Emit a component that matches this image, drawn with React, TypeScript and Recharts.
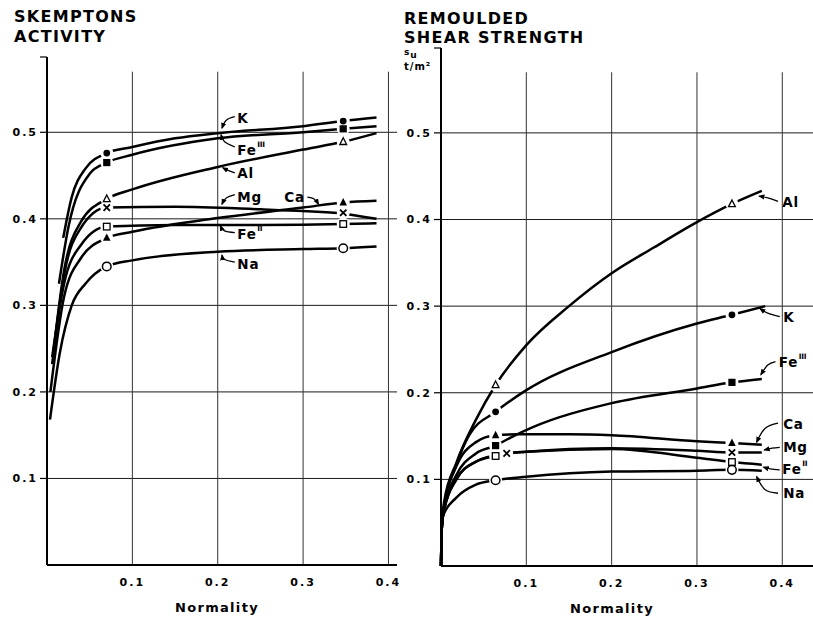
import React from 'react';
import { ComposedChart, Line, Scatter, XAxis, YAxis, ReferenceLine } from 'recharts';

type Pair = [number, number];

const xTicks = [0.1, 0.2, 0.3, 0.4];
const yTicks = [0.1, 0.2, 0.3, 0.4, 0.5];

// Skemptons activity vs normality — curves
const activityK: Pair[] = [[0.019, 0.378], [0.029, 0.425], [0.045, 0.458], [0.07, 0.476], [0.1, 0.483], [0.15, 0.493], [0.2, 0.499], [0.3, 0.507], [0.347, 0.513], [0.386, 0.517]];
const activityFe3: Pair[] = [[0.014, 0.325], [0.025, 0.39], [0.05, 0.452], [0.07, 0.465], [0.1, 0.474], [0.2, 0.493], [0.3, 0.5], [0.347, 0.504], [0.386, 0.507]];
const activityAl: Pair[] = [[0.008, 0.25], [0.02, 0.34], [0.04, 0.397], [0.07, 0.423], [0.1, 0.434], [0.2, 0.46], [0.3, 0.48], [0.347, 0.489], [0.386, 0.499]];
const activityMg: Pair[] = [[0.006, 0.232], [0.02, 0.335], [0.04, 0.39], [0.07, 0.413], [0.15, 0.414], [0.25, 0.411], [0.3, 0.409], [0.347, 0.406], [0.386, 0.4]];
const activityCa: Pair[] = [[0.004, 0.2], [0.02, 0.31], [0.04, 0.355], [0.07, 0.378], [0.1, 0.385], [0.2, 0.401], [0.3, 0.413], [0.347, 0.419], [0.386, 0.421]];
const activityFe2: Pair[] = [[0.006, 0.24], [0.02, 0.325], [0.04, 0.37], [0.07, 0.391], [0.15, 0.393], [0.25, 0.393], [0.347, 0.394], [0.386, 0.395]];
const activityNa: Pair[] = [[0.0035, 0.168], [0.015, 0.245], [0.029, 0.3], [0.045, 0.325], [0.07, 0.345], [0.1, 0.352], [0.2, 0.362], [0.3, 0.365], [0.347, 0.366], [0.386, 0.368]];

// measured points (markers)
const activityKPts: Pair[] = [[0.07, 0.476], [0.347, 0.513]];
const activityFe3Pts: Pair[] = [[0.07, 0.465], [0.347, 0.504]];
const activityAlPts: Pair[] = [[0.07, 0.423], [0.347, 0.489]];
const activityMgPts: Pair[] = [[0.07, 0.413], [0.347, 0.407]];
const activityCaPts: Pair[] = [[0.07, 0.378], [0.347, 0.419]];
const activityFe2Pts: Pair[] = [[0.07, 0.391], [0.347, 0.394]];
const activityNaPts: Pair[] = [[0.07, 0.345], [0.347, 0.366]];

// Remoulded shear strength vs normality — right panel
const strengthAl: Pair[] = [[0, 0], [0.001, 0.045], [0.0035, 0.073], [0.018, 0.119], [0.041, 0.169], [0.064, 0.209], [0.1, 0.255], [0.15, 0.3], [0.2, 0.338], [0.25, 0.368], [0.3, 0.397], [0.341, 0.418], [0.376, 0.433]];
const strengthK: Pair[] = [[0, 0], [0.001, 0.045], [0.004, 0.07], [0.018, 0.117], [0.033, 0.151], [0.064, 0.178], [0.1, 0.203], [0.2, 0.247], [0.3, 0.28], [0.341, 0.29], [0.38, 0.3]];
const strengthFe3: Pair[] = [[0, 0], [0.001, 0.045], [0.004, 0.068], [0.018, 0.105], [0.041, 0.13], [0.064, 0.139], [0.081, 0.148], [0.107, 0.16], [0.2, 0.188], [0.3, 0.205], [0.341, 0.212], [0.376, 0.216]];
const strengthCa: Pair[] = [[0, 0], [0.001, 0.045], [0.004, 0.07], [0.018, 0.115], [0.041, 0.143], [0.064, 0.151], [0.09, 0.152], [0.15, 0.152], [0.2, 0.151], [0.3, 0.144], [0.341, 0.142], [0.376, 0.14]];
const strengthMg: Pair[] = [[0, 0], [0.001, 0.045], [0.004, 0.066], [0.018, 0.1], [0.04, 0.12], [0.077, 0.13], [0.1, 0.132], [0.2, 0.136], [0.3, 0.133], [0.341, 0.131], [0.376, 0.131]];
const strengthFe2: Pair[] = [[0, 0], [0.001, 0.045], [0.004, 0.066], [0.018, 0.1], [0.04, 0.12], [0.064, 0.127], [0.1, 0.132], [0.2, 0.135], [0.3, 0.125], [0.341, 0.12], [0.376, 0.117]];
const strengthNa: Pair[] = [[0, 0], [0.001, 0.045], [0.002, 0.057], [0.018, 0.079], [0.041, 0.094], [0.064, 0.099], [0.1, 0.103], [0.2, 0.109], [0.3, 0.11], [0.341, 0.111], [0.376, 0.11]];

const strengthAlPts: Pair[] = [[0.064, 0.209], [0.341, 0.418]];
const strengthKPts: Pair[] = [[0.064, 0.178], [0.341, 0.29]];
const strengthFe3Pts: Pair[] = [[0.064, 0.139], [0.341, 0.212]];
const strengthCaPts: Pair[] = [[0.064, 0.151], [0.341, 0.142]];
const strengthMgPts: Pair[] = [[0.077, 0.13], [0.341, 0.131]];
const strengthFe2Pts: Pair[] = [[0.064, 0.127], [0.341, 0.12]];
const strengthNaPts: Pair[] = [[0.064, 0.099], [0.341, 0.111]];

type MarkKind = 'dot' | 'square' | 'triOpen' | 'cross' | 'tri' | 'squareOpen' | 'circleOpen';

const activitySeries = [
  { ion: 'K', mark: 'dot' as MarkKind, curve: activityK, points: activityKPts },
  { ion: 'FeIII', mark: 'square' as MarkKind, curve: activityFe3, points: activityFe3Pts },
  { ion: 'Al', mark: 'triOpen' as MarkKind, curve: activityAl, points: activityAlPts },
  { ion: 'Mg', mark: 'cross' as MarkKind, curve: activityMg, points: activityMgPts },
  { ion: 'Ca', mark: 'tri' as MarkKind, curve: activityCa, points: activityCaPts },
  { ion: 'FeII', mark: 'squareOpen' as MarkKind, curve: activityFe2, points: activityFe2Pts },
  { ion: 'Na', mark: 'circleOpen' as MarkKind, curve: activityNa, points: activityNaPts },
];

const strengthSeries = [
  { ion: 'Al', mark: 'triOpen' as MarkKind, curve: strengthAl, points: strengthAlPts },
  { ion: 'K', mark: 'dot' as MarkKind, curve: strengthK, points: strengthKPts },
  { ion: 'FeIII', mark: 'square' as MarkKind, curve: strengthFe3, points: strengthFe3Pts },
  { ion: 'Ca', mark: 'tri' as MarkKind, curve: strengthCa, points: strengthCaPts },
  { ion: 'Mg', mark: 'cross' as MarkKind, curve: strengthMg, points: strengthMgPts },
  { ion: 'FeII', mark: 'squareOpen' as MarkKind, curve: strengthFe2, points: strengthFe2Pts },
  { ion: 'Na', mark: 'circleOpen' as MarkKind, curve: strengthNa, points: strengthNaPts },
];

// ion labels: text anchor (left edge, middle) and arrow path ending on the curve
const activityLabels = [
  { name: 'K', sup: '', at: [0.223, 0.517] as Pair, arrow: [[0.22, 0.518], [0.21, 0.514], [0.205, 0.505]] as Pair[] },
  { name: 'Fe', sup: 'III', at: [0.223, 0.48] as Pair, arrow: [[0.22, 0.483], [0.208, 0.489], [0.204, 0.497]] as Pair[] },
  { name: 'Al', sup: '', at: [0.223, 0.453] as Pair, arrow: [[0.22, 0.453], [0.212, 0.456], [0.206, 0.459]] as Pair[] },
  { name: 'Mg', sup: '', at: [0.223, 0.425] as Pair, arrow: [[0.22, 0.428], [0.21, 0.424], [0.205, 0.417]] as Pair[] },
  { name: 'Ca', sup: '', at: [0.278, 0.425] as Pair, arrow: [[0.305, 0.425], [0.313, 0.423], [0.318, 0.417]] as Pair[] },
  { name: 'Fe', sup: 'II', at: [0.223, 0.382] as Pair, arrow: [[0.22, 0.384], [0.208, 0.386], [0.203, 0.392]] as Pair[] },
  { name: 'Na', sup: '', at: [0.223, 0.348] as Pair, arrow: [[0.22, 0.35], [0.208, 0.353], [0.205, 0.358]] as Pair[] },
];

const strengthLabels = [
  { name: 'Al', sup: '', at: [0.4, 0.42] as Pair, arrow: [[0.395, 0.421], [0.383, 0.425], [0.373, 0.427]] as Pair[] },
  { name: 'K', sup: '', at: [0.401, 0.288] as Pair, arrow: [[0.397, 0.288], [0.383, 0.292], [0.374, 0.297]] as Pair[] },
  { name: 'Fe', sup: 'III', at: [0.396, 0.235] as Pair, arrow: [[0.392, 0.236], [0.383, 0.232], [0.375, 0.221]] as Pair[] },
  { name: 'Ca', sup: '', at: [0.401, 0.164] as Pair, arrow: [[0.395, 0.165], [0.38, 0.159], [0.37, 0.143]] as Pair[] },
  { name: 'Mg', sup: '', at: [0.401, 0.137] as Pair, arrow: [[0.397, 0.137], [0.388, 0.136], [0.379, 0.134]] as Pair[] },
  { name: 'Fe', sup: 'II', at: [0.4, 0.112] as Pair, arrow: [[0.397, 0.111], [0.386, 0.112], [0.378, 0.114]] as Pair[] },
  { name: 'Na', sup: '', at: [0.401, 0.084] as Pair, arrow: [[0.395, 0.084], [0.38, 0.088], [0.37, 0.103]] as Pair[] },
];

const FONT = '"DejaVu Sans", sans-serif';

const toPts = (pairs: Pair[]) => pairs.map(([x, y]) => ({ x, y }));

function IonMarker({ cx, cy, kind }: { cx: number; cy: number; kind: MarkKind }) {
  if (cx == null || cy == null) return null;
  switch (kind) {
    case 'dot':
      return <circle cx={cx} cy={cy} r={3.4} fill="#000" />;
    case 'circleOpen':
      return <circle cx={cx} cy={cy} r={4.3} fill="#fff" stroke="#000" strokeWidth={1.5} />;
    case 'square':
      return <rect x={cx - 3.6} y={cy - 3.6} width={7.2} height={7.2} fill="#000" />;
    case 'squareOpen':
      return <rect x={cx - 3.3} y={cy - 3.3} width={6.6} height={6.6} fill="#fff" stroke="#000" strokeWidth={1.3} />;
    case 'tri':
      return <path d={`M${cx},${cy - 4.4} L${cx + 3.8},${cy + 3} L${cx - 3.8},${cy + 3} Z`} fill="#000" />;
    case 'triOpen':
      return <path d={`M${cx},${cy - 4} L${cx + 3.4},${cy + 2.7} L${cx - 3.4},${cy + 2.7} Z`} fill="#fff" stroke="#000" strokeWidth={1.3} />;
    case 'cross':
      return (
        <path
          d={`M${cx - 3.2},${cy - 3.2} L${cx + 3.2},${cy + 3.2} M${cx + 3.2},${cy - 3.2} L${cx - 3.2},${cy + 3.2}`}
          stroke="#000"
          strokeWidth={1.8}
        />
      );
    default:
      return null;
  }
}

// white disc under each marker, so the curves break around the points like the drawing
// eslint-disable-next-line @typescript-eslint/no-explicit-any
function Halo(props: any) {
  const { cx, cy } = props;
  if (cx == null || cy == null) return null;
  return <circle cx={cx} cy={cy} r={6.5} fill="#fff" />;
}

// eslint-disable-next-line @typescript-eslint/no-explicit-any
function IonLabel(props: any) {
  const { cx, cy, payload } = props;
  if (cx == null || cy == null) return null;
  return (
    <text
      x={cx}
      y={cy}
      dominantBaseline="central"
      fontFamily={FONT}
      fontWeight={700}
      fontSize={13.5}
      fill="#000"
      style={{ letterSpacing: '0.8px' }}
    >
      {payload.name}
      {payload.sup ? (
        <tspan dx={0.5} dy={-6} fontSize={7.5} style={{ letterSpacing: '-0.3px' }}>
          {payload.sup}
        </tspan>
      ) : null}
    </text>
  );
}

interface PanelProps {
  left: number;
  width: number;
  marginTop: number;
  marginBottom: number;
  marginRight: number;
  xMax: number;
  yMax: number;
  series: typeof activitySeries;
  labels: typeof activityLabels;
  arrowId: string;
  labelShift: number;
}

const tickStyle = {
  fontSize: 11,
  fill: '#000',
  fontFamily: FONT,
  fontWeight: 700,
  style: { letterSpacing: '2px' },
};

function Panel(p: PanelProps) {
  const halos = p.series.flatMap((s) => toPts(s.points));
  const labelPts = p.labels.map((l) => ({ x: l.at[0], y: l.at[1], name: l.name, sup: l.sup }));
  return (
    <div style={{ position: 'absolute', left: p.left, top: 0 }}>
      <ComposedChart
        width={p.width}
        height={617}
        margin={{ top: p.marginTop, right: p.marginRight, bottom: p.marginBottom, left: 0 }}
      >
        <XAxis
          type="number"
          dataKey="x"
          domain={[0, p.xMax]}
          ticks={xTicks}
          tickLine={false}
          tickSize={6}
          tickMargin={7}
          height={50}
          axisLine={{ stroke: '#000', strokeWidth: 2 }}
          tick={tickStyle}
          label={{
            value: 'Normality',
            position: 'insideBottom',
            offset: 3,
            dx: p.labelShift,
            fontSize: 13,
            fontWeight: 700,
            fontFamily: FONT,
            fill: '#000',
            style: { letterSpacing: '1.3px' },
          }}
        />
        <YAxis
          type="number"
          dataKey="y"
          domain={[0, p.yMax]}
          ticks={[...yTicks, p.yMax]}
          tickFormatter={(v: number) => (v > 0.55 ? '' : String(v))}
          width={47}
          tickSize={7}
          tickMargin={2}
          axisLine={{ stroke: '#000', strokeWidth: 2 }}
          tickLine={{ stroke: '#000', strokeWidth: 1.2 }}
          tick={tickStyle}
        />

        {/* grid: horizontal lines full width, vertical ones stop below the axis top */}
        {yTicks.map((v) => (
          <ReferenceLine key={'h' + v} y={v} stroke="#1a1a1a" strokeWidth={1} />
        ))}
        {xTicks.map((v) => (
          <ReferenceLine
            key={'v' + v}
            segment={[{ x: v, y: 0 }, { x: v, y: 0.57 }]}
            stroke="#333"
            strokeWidth={1}
          />
        ))}

        {p.series.map((s) => (
          <Line
            key={'c' + s.ion}
            data={toPts(s.curve)}
            dataKey="y"
            type="monotone"
            stroke="#000"
            strokeWidth={2.5}
            dot={false}
            activeDot={false}
            legendType="none"
            isAnimationActive={false}
          />
        ))}

        {p.labels.map((l, i) => (
          <Line
            key={'a' + i}
            data={toPts(l.arrow)}
            dataKey="y"
            type="natural"
            stroke="#000"
            strokeWidth={1.3}
            dot={false}
            activeDot={false}
            legendType="none"
            markerEnd={`url(#${p.arrowId})`}
            isAnimationActive={false}
          />
        ))}

        <Scatter data={halos} shape={Halo} isAnimationActive={false} />

        {p.series.map((s) => (
          <Scatter
            key={'m' + s.ion}
            data={toPts(s.points)}
            // eslint-disable-next-line @typescript-eslint/no-explicit-any
            shape={(props: any) => <IonMarker cx={props.cx} cy={props.cy} kind={s.mark} />}
            isAnimationActive={false}
          />
        ))}

        <Scatter data={labelPts} shape={IonLabel} isAnimationActive={false} />
      </ComposedChart>
    </div>
  );
}

export default function App() {
  const title = { fontFamily: FONT, fontWeight: 700, fontSize: 16, fill: '#000', style: { letterSpacing: '1.3px' } };
  return (
    <div
      style={{
        position: 'absolute',
        left: 0,
        top: 0,
        width: 813,
        height: 617,
        background: '#fff',
        overflow: 'hidden',
      }}
    >
      <svg width={0} height={0} style={{ position: 'absolute' }}>
        <defs>
          <marker id="arrowA" viewBox="0 0 10 10" refX="8" refY="5" markerWidth="5" markerHeight="5" orient="auto">
            <path d="M0,1 L10,5 L0,9 Z" fill="#000" />
          </marker>
          <marker id="arrowS" viewBox="0 0 10 10" refX="8" refY="5" markerWidth="5" markerHeight="5" orient="auto">
            <path d="M0,1 L10,5 L0,9 Z" fill="#000" />
          </marker>
        </defs>
      </svg>

      <Panel
        left={0}
        width={400}
        marginTop={57}
        marginBottom={2}
        marginRight={3}
        xMax={0.41}
        yMax={0.587}
        series={activitySeries}
        labels={activityLabels}
        arrowId="arrowA"
        labelShift={-5}
      />
      <Panel
        left={394}
        width={419}
        marginTop={48}
        marginBottom={1}
        marginRight={0}
        xMax={0.436}
        yMax={0.598}
        series={strengthSeries}
        labels={strengthLabels}
        arrowId="arrowS"
        labelShift={-15}
      />

      <svg width={813} height={80} style={{ position: 'absolute', left: 0, top: 0, pointerEvents: 'none' }}>
        <text x={14} y={22} {...title}>SKEMPTONS</text>
        <text x={14} y={42} {...title}>ACTIVITY</text>
        <text x={404} y={24} {...title}>REMOULDED</text>
        <text x={404} y={43} {...title}>SHEAR STRENGTH</text>
        <text x={404} y={55} fontFamily={FONT} fontWeight={700} fontSize={9} fill="#000">
          s<tspan dx={1} dy={3}>u</tspan>
        </text>
        <text x={404} y={70} fontFamily={FONT} fontWeight={700} fontSize={10} fill="#000" style={{ letterSpacing: '1px' }}>
          t/m²
        </text>
      </svg>
    </div>
  );
}
